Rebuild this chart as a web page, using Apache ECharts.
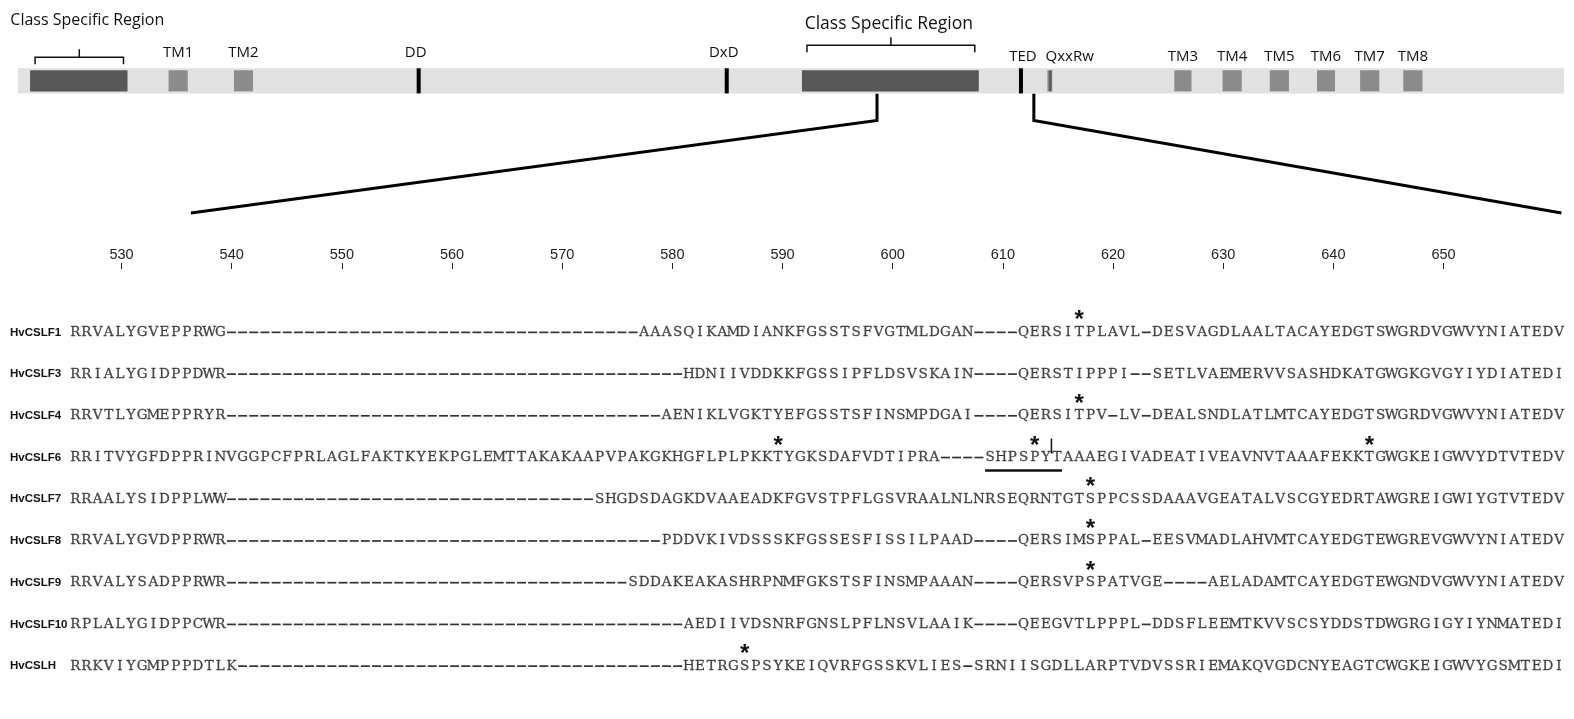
<!DOCTYPE html>
<html>
<head>
<meta charset="utf-8">
<script src="https://cdn.jsdelivr.net/npm/echarts@6/dist/echarts.min.js"></script>
<style>
html,body{margin:0;padding:0;background:#fff;}
#c{width:1574px;height:719px;}
</style>
</head>
<body>
<div id="c"></div>
<script>
// ---- protein map (positions in residues along the full-length protein) ----
const proteinLength = 960;
const blockNames = ['Class Specific Region', 'TM1', 'TM2', 'Class Specific Region', 'TM3', 'TM4', 'TM5', 'TM6', 'TM7', 'TM8'];
const blockStart = [7.5, 93.5, 134.1, 486.8, 718.0, 748.0, 777.3, 806.6, 833.4, 860.2];
const blockEnd   = [68.0, 105.4, 145.9, 596.6, 728.7, 759.9, 789.2, 817.8, 845.3, 872.1];
const blockKind  = ['csr', 'tm', 'tm', 'csr', 'tm', 'tm', 'tm', 'tm', 'tm', 'tm'];
const motifNames = ['DD', 'DxD', 'TED'];
const motifPos   = [248.8, 440.1, 622.8];
const qxxrwName  = 'QxxRw';
const qxxrwRange = [639.0, 642.2];

// zoomed window: from the protein map down onto the alignment ruler
const calloutFrom = [533.4, 630.8];   // residues on the protein map
const calloutTo   = [536.3, 660.7];   // ruler numbering

// ---- alignment ----
const rulerTicks = [530, 540, 550, 560, 570, 580, 590, 600, 610, 620, 630, 640, 650];
const rowNames = ['HvCSLF1', 'HvCSLF3', 'HvCSLF4', 'HvCSLF6', 'HvCSLF7', 'HvCSLF8', 'HvCSLF9', 'HvCSLF10', 'HvCSLH'];
const sequences = [
  'RRVALYGVEPPRWG-------------------------------------AAASQIKAMDIANKFGSSTSFVGTMLDGAN----QERSITPLAVL-DESVAGDLAALTACAYEDGTSWGRDVGWVYNIATEDV',
  'RRIALYGIDPPDWR-----------------------------------------HDNIIVDDKKFGSSIPFLDSVSKAIN----QERSTIPPPI--SETLVAEMERVVSASHDKATGWGKGVGYIYDIATEDI',
  'RRVTLYGMEPPRYR---------------------------------------AENIKLVGKTYEFGSSTSFINSMPDGAI----QERSITPV-LV-DEALSNDLATLMTCAYEDGTSWGRDVGWVYNIATEDV',
  'RRITVYGFDPPRINVGGPCFPRLAGLFAKTKYEKPGLEMTTAKAKAAPVPAKGKHGFLPLPKKTYGKSDAFVDTIPRA----SHPSPYTAAAEGIVADEATIVEAVNVTAAAFEKKTGWGKEIGWVYDTVTEDV',
  'RRAALYSIDPPLWW---------------------------------SHGDSDAGKDVAAEADKFGVSTPFLGSVRAALNLNRSEQRNTGTSPPCSSDAAAVGEATALVSCGYEDRTAWGREIGWIYGTVTEDV',
  'RRVALYGVDPPRWR---------------------------------------PDDVKIVDSSSKFGSSESFISSILPAAD----QERSIMSPPAL-EESVMADLAHVMTCAYEDGTEWGREVGWVYNIATEDV',
  'RRVALYSADPPRWR------------------------------------SDDAKEAKASHRPNMFGKSTSFINSMPAAAN----QERSVPSPATVGE----AELADAMTCAYEDGTEWGNDVGWVYNIATEDV',
  'RPLALYGIDPPCWR-----------------------------------------AEDIIVDSNRFGNSLPFLNSVLAAIK----QEEGVTLPPPL-DDSFLEEMTKVVSCSYDDSTDWGRGIGYIYNMATEDI',
  'RRKVIYGMPPPDTLK----------------------------------------HETRGSPSYKEIQVRFGSSKVLIES-SRNIISGDLLARPTVDVSSRIEMAKQVGDCNYEAGTCWGKEIGWVYGSMTEDI'
];
// starred residues (row index, alignment column)
const starRows = [0, 2, 3, 3, 3, 4, 5, 6, 8];
const starCols = [91, 91, 64, 87, 117, 92, 92, 92, 61];
// HvCSLF6 underlined stretch and cut mark
const underlineRow = 3;
const underlineCols = [83, 89];
const cutRow = 3;
const cutAfterCol = 88;

// ---- layout / styles ----
const labelFontFamily = '"Open Sans", "Noto Sans", sans-serif';
const csrLayout = [
  { barY: 57.2, labelY: 20, fontSize: 16, dx: 8 },
  { barY: 45.2, labelY: 24, fontSize: 17.5, dx: -2 }
];
const leftLabelY = 52.5;
const rightLabelY = 57;
const motifLabelShift = { DD: -3, DxD: -3, TED: 2 };

// residues become labelled points, gaps become short dashes
const residuePoints = [];
const gapPoints = [];
sequences.forEach(function (s, r) {
  for (let i = 0; i < s.length; i++) {
    if (s[i] === '-') gapPoints.push([i + 1, r]);
    else residuePoints.push([i + 1, r, s[i]]);
  }
});

const chart = echarts.init(document.getElementById('c'));

function barBox(api, from, to, inset) {
  const a = api.coord([from, 0]);
  const b = api.coord([to, 1]);
  return { x: a[0], y: b[1] + inset, width: b[0] - a[0], height: a[1] - b[1] - 2 * inset };
}
function featureLabelY(pos) {
  return pos > blockEnd[3] ? rightLabelY : leftLabelY;
}
function labelText(text, x, y, size) {
  return {
    type: 'text', x: x, y: y,
    style: { text: text, fontSize: size || 15, fontFamily: labelFontFamily, fill: '#111', textAlign: 'center', textVerticalAlign: 'middle' }
  };
}

const option = {
  animation: false,
  backgroundColor: '#fff',
  grid: [
    { left: 18, right: 10, top: 68.3, height: 25.1 },
    { left: 11.33, right: 20.27, top: 268, height: 1 },
    { left: 69.7, right: 9.4, top: 311.5, height: 375.5 }
  ],
  xAxis: [
    { gridIndex: 0, type: 'value', min: 0, max: proteinLength, show: false },
    {
      gridIndex: 1, type: 'value', min: 520, max: 660, position: 'top',
      axisLine: { show: false },
      splitLine: { show: false },
      axisTick: { show: true, length: 6, customValues: rulerTicks, lineStyle: { color: '#222', width: 1 } },
      axisLabel: {
        customValues: rulerTicks, margin: 6, fontSize: 14.5, color: '#222',
        fontFamily: '"Liberation Sans Narrow", "Liberation Sans", sans-serif'
      }
    },
    { gridIndex: 2, type: 'value', min: 0.5, max: 134.5, show: false }
  ],
  yAxis: [
    { gridIndex: 0, type: 'value', min: 0, max: 1, show: false },
    { gridIndex: 1, type: 'value', min: 0, max: 1, show: false },
    {
      gridIndex: 2, type: 'category', data: rowNames, inverse: true,
      axisLine: { show: false }, axisTick: { show: false }, splitLine: { show: false },
      axisLabel: {
        align: 'left', margin: 59.7, fontWeight: 'bold', fontSize: 11.5, color: '#111',
        fontFamily: '"Liberation Sans", Arial, sans-serif'
      }
    }
  ],
  series: [
    // full-length protein bar
    {
      type: 'custom', xAxisIndex: 0, yAxisIndex: 0, clip: false,
      data: [[0, proteinLength]],
      renderItem: function (params, api) {
        return { type: 'rect', shape: barBox(api, api.value(0), api.value(1), 0), style: { fill: '#e1e1e1' } };
      }
    },
    // class specific regions and transmembrane helices
    {
      type: 'custom', xAxisIndex: 0, yAxisIndex: 0, clip: false,
      data: blockStart.map(function (s, i) { return [s, blockEnd[i], i]; }),
      renderItem: function (params, api) {
        const i = api.value(2);
        const csr = blockKind[i] === 'csr';
        const box = barBox(api, api.value(0), api.value(1), 2);
        const children = [{ type: 'rect', shape: box, style: { fill: csr ? '#585858' : '#8b8b8b' } }];
        if (csr) {
          const L = csrLayout[i === 0 ? 0 : 1];
          const x0 = box.x + 5, x1 = box.x + box.width - 4;
          const cx = (x0 + x1) / 2;
          children.push({
            type: 'polyline',
            shape: { points: [[x0, L.barY + 7], [x0, L.barY], [x1, L.barY], [x1, L.barY + 7]] },
            style: { stroke: '#111', lineWidth: 1.5, fill: null }
          });
          children.push({
            type: 'line',
            shape: { x1: cx, y1: L.barY, x2: cx, y2: L.barY - 8 },
            style: { stroke: '#111', lineWidth: 1.5 }
          });
          children.push(labelText(blockNames[i], cx + L.dx, L.labelY, L.fontSize));
        } else {
          children.push(labelText(blockNames[i], box.x + box.width / 2, featureLabelY(api.value(0))));
        }
        return { type: 'group', children: children };
      }
    },
    // catalytic motifs
    {
      type: 'custom', xAxisIndex: 0, yAxisIndex: 0, clip: false,
      data: motifPos.map(function (p, i) { return [p, i]; }),
      renderItem: function (params, api) {
        const a = api.coord([api.value(0), 0]);
        const b = api.coord([api.value(0), 1]);
        const name = motifNames[api.value(1)];
        return {
          type: 'group', children: [
            { type: 'rect', shape: { x: a[0] - 2, y: b[1], width: 4, height: a[1] - b[1] }, style: { fill: '#000' } },
            labelText(name, a[0] + motifLabelShift[name], featureLabelY(api.value(0)))
          ]
        };
      }
    },
    // QxxRw motif
    {
      type: 'custom', xAxisIndex: 0, yAxisIndex: 0, clip: false,
      data: [[qxxrwRange[0], qxxrwRange[1]]],
      renderItem: function (params, api) {
        const box = barBox(api, api.value(0), api.value(1), 2);
        return {
          type: 'group', children: [
            {
              type: 'rect', shape: box,
              style: { fill: new echarts.graphic.LinearGradient(0, 0, 1, 0, [{ offset: 0, color: '#bdbdbd' }, { offset: 0.6, color: '#4a4a4a' }, { offset: 1, color: '#8a8a8a' }]) }
            },
            labelText(qxxrwName, box.x + box.width / 2 + 20, featureLabelY(api.value(0)))
          ]
        };
      }
    },
    // alignment residues
    {
      type: 'scatter', xAxisIndex: 2, yAxisIndex: 2,
      data: residuePoints,
      symbolSize: 1,
      itemStyle: { color: 'rgba(0,0,0,0)' },
      progressive: 0,
      silent: true,
      label: {
        show: true, position: 'inside', offset: [0, 1],
        formatter: function (p) { return p.value[2]; },
        fontSize: 13.5, fontFamily: '"DejaVu Serif", "Liberation Serif", serif', color: '#1a1a1a',
        textBorderColor: '#1a1a1a', textBorderWidth: 0.3
      },
      labelLayout: { hideOverlap: false }
    },
    // alignment gaps
    {
      type: 'custom', xAxisIndex: 2, yAxisIndex: 2, clip: false,
      data: gapPoints,
      renderItem: function (params, api) {
        const p = api.coord([api.value(0), api.value(1)]);
        return { type: 'line', shape: { x1: p[0] - 4.5, y1: p[1], x2: p[0] + 4.5, y2: p[1] }, style: { stroke: '#333', lineWidth: 1.7 } };
      }
    },
    // starred residues
    {
      type: 'custom', xAxisIndex: 2, yAxisIndex: 2, clip: false,
      data: starCols.map(function (c, i) { return [c, starRows[i]]; }),
      renderItem: function (params, api) {
        const p = api.coord([api.value(0), api.value(1)]);
        return {
          type: 'text', x: p[0], y: p[1] - 10,
          style: { text: '*', fontSize: 24, fontWeight: 'bold', fontFamily: '"Liberation Mono", monospace', fill: '#111', textAlign: 'center', textVerticalAlign: 'middle' }
        };
      }
    },
    // HvCSLF6 underline and cut mark
    {
      type: 'custom', xAxisIndex: 2, yAxisIndex: 2, clip: false,
      data: [[underlineCols[0], underlineCols[1], underlineRow, cutAfterCol, cutRow]],
      renderItem: function (params, api) {
        const a = api.coord([api.value(0) - 0.45, api.value(2)]);
        const b = api.coord([api.value(1) + 0.45, api.value(2)]);
        const c = api.coord([api.value(3) + 0.5, api.value(4)]);
        return {
          type: 'group', children: [
            { type: 'line', shape: { x1: a[0], y1: a[1] + 13, x2: b[0], y2: b[1] + 13 }, style: { stroke: '#111', lineWidth: 2.5 } },
            { type: 'line', shape: { x1: c[0], y1: c[1] - 19, x2: c[0], y2: c[1] - 4 }, style: { stroke: '#111', lineWidth: 1.5 } }
          ]
        };
      }
    }
  ]
};

chart.setOption(option);

// callout lines linking the protein map to the alignment window
const barBottom = chart.convertToPixel({ gridIndex: 0 }, [0, 0])[1];
const rulerTop = 268;
const callouts = calloutFrom.map(function (f, i) {
  const sx = chart.convertToPixel({ xAxisIndex: 0 }, f);
  const ex = chart.convertToPixel({ xAxisIndex: 1 }, calloutTo[i]);
  return {
    type: 'polyline',
    shape: { points: [[sx, barBottom], [sx, barBottom + 27], [ex, rulerTop - 55]] },
    style: { stroke: '#000', lineWidth: 3, fill: null, lineJoin: 'miter' }
  };
});
chart.setOption({ graphic: callouts });
</script>
</body>
</html>
